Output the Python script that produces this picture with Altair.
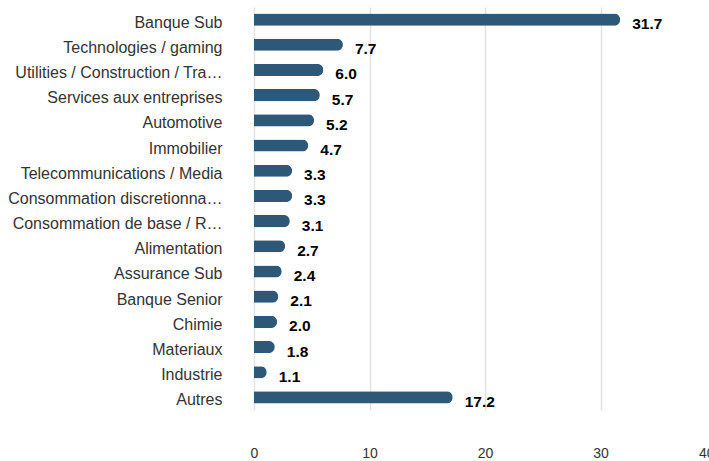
import altair as alt
import pandas as pd

categories = [
    "Banque Sub", "Technologies / gaming", "Utilities / Construction / Tra…",
    "Services aux entreprises", "Automotive", "Immobilier",
    "Telecommunications / Media", "Consommation discretionna…",
    "Consommation de base / R…", "Alimentation", "Assurance Sub",
    "Banque Senior", "Chimie", "Materiaux", "Industrie", "Autres",
]
values = [31.7, 7.7, 6.0, 5.7, 5.2, 4.7, 3.3, 3.3, 3.1, 2.7, 2.4, 2.1, 2.0, 1.8, 1.1, 17.2]
x_ticks = [0, 10, 20, 30, 40]

df = pd.DataFrame({"cat": categories, "val": values})
df["label"] = [f"{v:.1f}" for v in values]

FONT = "Liberation Sans"

y_enc = alt.Y("cat:N", sort=categories, title=None,
              scale=alt.Scale(paddingInner=0.52, paddingOuter=0.26),
              axis=alt.Axis(labelFontSize=16, labelColor="#333333", labelFont=FONT,
                            labelLimit=260, labelPadding=32, labelOffset=3,
                            ticks=False, domain=False, grid=False))
x_enc = alt.X("val:Q", title=None,
              scale=alt.Scale(domain=[0, 40], nice=False),
              axis=alt.Axis(values=x_ticks, labelFontSize=14,
                            labelColor="#333333", labelFont=FONT, ticks=False,
                            domain=False, labelPadding=36.5, grid=True,
                            labelAlign=alt.ExprRef(expr="datum.value == 40 ? 'right' : 'center'"),
                            labelOffset=alt.ExprRef(expr="datum.value == 40 ? -2 : 0"),
                            gridColor="#e3e3e3", gridWidth=1.5))

bars = alt.Chart(df).mark_bar(color="#2d5878", cornerRadiusEnd=6).encode(x=x_enc, y=y_enc)

text = alt.Chart(df).mark_text(
    align="left", baseline="middle", dx=12, dy=4.5, fontSize=15.5,
    fontWeight="bold", color="#000000", font=FONT,
).encode(x="val:Q", y=alt.Y("cat:N", sort=categories), text="label:N")

chart = (bars + text).properties(
    width=462, height=403,
    autosize=alt.AutoSizeParams(type="none"),
    padding={"left": 254, "top": 7, "right": -7, "bottom": 51},
).configure_view(stroke=None)

chart.save("out.html", embed_options={"renderer": "svg", "actions": False})
